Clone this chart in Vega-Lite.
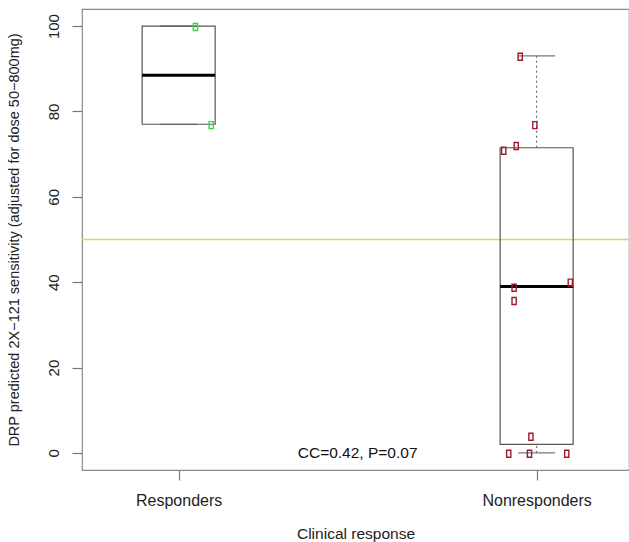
{
  "$schema": "https://vega.github.io/schema/vega-lite/v6.json",
  "width": 547,
  "height": 461,
  "autosize": {"type": "none"},
  "padding": {"left": 82, "top": 9, "right": 0, "bottom": 72},
  "background": "white",
  "config": {
    "view": {"stroke": "#8a8a8a", "strokeWidth": 1.2},
    "font": "Liberation Sans"
  },
  "datasets": {
    "points": [
      {"group": "Responders", "x": 1.047, "y": 99.8},
      {"group": "Responders", "x": 1.091, "y": 76.8},
      {"group": "Nonresponders", "x": 1.954, "y": 92.8},
      {"group": "Nonresponders", "x": 1.995, "y": 76.8},
      {"group": "Nonresponders", "x": 1.943, "y": 71.9},
      {"group": "Nonresponders", "x": 1.908, "y": 70.8},
      {"group": "Nonresponders", "x": 2.094, "y": 39.9},
      {"group": "Nonresponders", "x": 1.937, "y": 38.7},
      {"group": "Nonresponders", "x": 1.937, "y": 35.6},
      {"group": "Nonresponders", "x": 1.984, "y": 3.8},
      {"group": "Nonresponders", "x": 1.922, "y": -0.2},
      {"group": "Nonresponders", "x": 1.980, "y": -0.2},
      {"group": "Nonresponders", "x": 2.084, "y": -0.2}
    ],
    "boxes": [
      {"group": "Responders", "pos": 1, "lo": 77, "q1": 77, "med": 88.5, "q3": 100, "hi": 100},
      {"group": "Nonresponders", "pos": 2, "lo": 0, "q1": 2, "med": 39, "q3": 71.5, "hi": 93}
    ],
    "note": [
      {"pos": 1.5, "y": 0, "label": "CC=0.42, P=0.07"}
    ]
  },
  "layer": [
    {
      "data": {"name": "note"},
      "mark": {"type": "rule", "color": "#ecc970", "strokeWidth": 1.5},
      "encoding": {"y": {"datum": 50, "type": "quantitative", "scale": {"domain": [-4, 104], "nice": false, "zero": false}}}
    },
    {
      "data": {"name": "boxes"},
      "mark": {"type": "rule", "color": "#555555", "strokeDash": [2, 3], "strokeWidth": 1},
      "encoding": {
        "x": {"field": "pos", "type": "quantitative"},
        "y": {"field": "q3", "type": "quantitative"},
        "y2": {"field": "hi"}
      }
    },
    {
      "data": {"name": "boxes"},
      "mark": {"type": "rule", "color": "#555555", "strokeDash": [2, 3], "strokeWidth": 1},
      "encoding": {
        "x": {"field": "pos", "type": "quantitative"},
        "y": {"field": "lo", "type": "quantitative"},
        "y2": {"field": "q1"}
      }
    },
    {
      "data": {"name": "boxes"},
      "mark": {"type": "tick", "orient": "horizontal", "size": 37, "thickness": 1.2, "color": "#777777", "opacity": 1},
      "encoding": {
        "x": {"field": "pos", "type": "quantitative"},
        "y": {"field": "hi", "type": "quantitative"}
      }
    },
    {
      "data": {"name": "boxes"},
      "mark": {"type": "tick", "orient": "horizontal", "size": 37, "thickness": 1.2, "color": "#777777", "opacity": 1},
      "encoding": {
        "x": {"field": "pos", "type": "quantitative"},
        "y": {"field": "lo", "type": "quantitative"}
      }
    },
    {
      "data": {"name": "boxes"},
      "mark": {"type": "bar", "width": 73, "fill": "white", "fillOpacity": 0, "stroke": "#555555", "strokeWidth": 1.2},
      "encoding": {
        "x": {"field": "pos", "type": "quantitative"},
        "y": {"field": "q1", "type": "quantitative"},
        "y2": {"field": "q3"}
      }
    },
    {
      "data": {"name": "boxes"},
      "mark": {"type": "tick", "orient": "horizontal", "size": 73, "thickness": 3, "color": "#000000", "opacity": 1},
      "encoding": {
        "x": {"field": "pos", "type": "quantitative"},
        "y": {"field": "med", "type": "quantitative"}
      }
    },
    {
      "data": {"name": "points"},
      "mark": {"type": "point", "shape": "M-0.6,-1L0.6,-1L0.6,1L-0.6,1Z", "size": 49, "filled": false, "strokeWidth": 1.4, "opacity": 1},
      "encoding": {
        "x": {"field": "x", "type": "quantitative"},
        "y": {"field": "y", "type": "quantitative"},
        "color": {
          "field": "group",
          "type": "nominal",
          "scale": {"domain": ["Responders", "Nonresponders"], "range": ["#33dd33", "#9e1b2e"]},
          "legend": null
        }
      }
    },
    {
      "data": {"name": "note"},
      "mark": {"type": "text", "fontSize": 15.5, "color": "#111111", "align": "center", "baseline": "middle", "font": "Liberation Sans"},
      "encoding": {
        "x": {"field": "pos", "type": "quantitative"},
        "y": {"field": "y", "type": "quantitative"},
        "text": {"field": "label"}
      }
    }
  ],
  "resolve": {"scale": {"x": "shared", "y": "shared"}},
  "encoding": {
    "x": {
      "type": "quantitative",
      "scale": {"domain": [0.744, 2.244], "nice": false, "zero": false},
      "axis": {
        "title": "Clinical response",
        "values": [1, 2],
        "labelExpr": "datum.value == 1 ? 'Responders' : 'Nonresponders'",
        "domain": false,
        "grid": false,
        "tickSize": 10,
        "tickColor": "#777777",
        "tickWidth": 1.2,
        "labelFontSize": 16,
        "labelColor": "#222222",
        "labelPadding": 12,
        "titleFontSize": 15.5,
        "titleFontWeight": "normal",
        "titleColor": "#222222",
        "titlePadding": 18,
        "labelFont": "Liberation Sans",
        "titleFont": "Liberation Sans"
      }
    },
    "y": {
      "type": "quantitative",
      "scale": {"domain": [-4, 104], "nice": false, "zero": false},
      "axis": {
        "title": "DRP predicted 2X−121 sensitivity (adjusted for dose 50−800mg)",
        "values": [0, 20, 40, 60, 80, 100],
        "domain": false,
        "grid": false,
        "tickSize": 10,
        "tickColor": "#777777",
        "tickWidth": 1.2,
        "labelAngle": 270,
        "labelAlign": "center",
        "labelBaseline": "bottom",
        "labelFontSize": 15,
        "labelColor": "#222222",
        "labelPadding": 11,
        "titleFontSize": 14.5,
        "titleFontWeight": "normal",
        "titleColor": "#222222",
        "titlePadding": 25,
        "labelFont": "Liberation Sans",
        "titleFont": "Liberation Sans"
      }
    }
  }
}
